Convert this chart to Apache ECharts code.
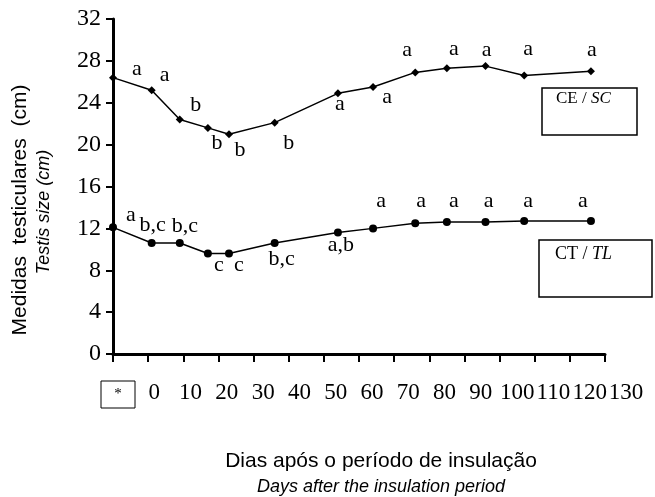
<!DOCTYPE html>
<html>
<head>
<meta charset="utf-8">
<script src="https://cdn.jsdelivr.net/npm/echarts@6/dist/echarts.min.js"></script>
<style>
  html, body { margin: 0; padding: 0; background: #fff; }
  #main { width: 655px; height: 497px; }
</style>
</head>
<body>
<div id="main"></div>
<script>
// dias (posição no eixo), medidas CE/SC e CT/TL
const days = [-10, 1, 9, 17, 23, 36, 54, 64, 76, 85, 96, 107, 126];
const ceSc = [26.4, 25.2, 22.4, 21.6, 21.0, 22.1, 24.9, 25.5, 26.9, 27.3, 27.5, 26.6, 27.0];
const ctTl = [12.1, 10.6, 10.6, 9.6, 9.6, 10.6, 11.6, 12.0, 12.5, 12.6, 12.6, 12.7, 12.7];
const ceLetters = ['a', 'a', 'b', 'b', 'b', 'b', 'a', 'a', 'a', 'a', 'a', 'a', 'a'];
const ctLetters = ['a', 'b,c', 'b,c', 'c', 'c', 'b,c', 'a,b', 'a', 'a', 'a', 'a', 'a', 'a'];
const xTickLabels = ['*', '0', '10', '20', '30', '40', '50', '60', '70', '80', '90', '100', '110', '120', '130'];

// deslocamento das letras em relação ao ponto (px)
const ceOffsets = [[24, -8], [13, -15], [16, -14], [9, 15], [11, 16], [14, 21], [2, 11], [14, 10], [-8, -22], [7, -19], [1, -16], [4, -26], [1, -21]];
const ctOffsets = [[18, -12], [1, -18], [5, -17], [11, 12], [10, 12], [7, 16], [3, 13], [8, -27], [6, -22], [7, -21], [3, -21], [4, -20], [-8, -20]];

const serif = 'Liberation Serif';
const sans = 'Liberation Sans';

function points(vals, letters, offsets) {
  return vals.map((v, i) => ({
    value: [days[i], v],
    label: { formatter: letters[i], offset: offsets[i] }
  }));
}

const myChart = echarts.init(document.getElementById('main'));
myChart.setOption({
  animation: false,
  grid: [
    { left: 113, right: 50, top: 19, bottom: 143 },
    { left: 118, right: 29, top: 19, bottom: 143 }
  ],
  xAxis: [
    {
      type: 'value', gridIndex: 0, min: -10, max: 130, interval: 10,
      axisLine: { lineStyle: { color: '#000', width: 3 } },
      axisTick: { show: true, length: 8, lineStyle: { color: '#000', width: 2 } },
      axisLabel: { show: false },
      splitLine: { show: false }
    },
    {
      type: 'value', gridIndex: 1, min: -10, max: 130, interval: 10,
      axisLine: { show: false },
      axisTick: { show: false },
      splitLine: { show: false },
      axisLabel: {
        margin: 27,
        showMinLabel: true,
        showMaxLabel: true,
        fontFamily: serif, fontSize: 23, color: '#000',
        formatter: (v) => {
          const i = Math.round((v + 10) / 10);
          return i === 0 ? '{box|' + xTickLabels[0] + '}' : xTickLabels[i];
        },
        rich: {
          box: {
            width: 34, height: 27, align: 'center', verticalAlign: 'top',
            borderColor: '#000', borderWidth: 1, fontFamily: serif, fontSize: 15,
            lineHeight: 20, color: '#000'
          }
        }
      }
    }
  ],
  yAxis: [
    {
      type: 'value', gridIndex: 0, min: 0, max: 32, interval: 4,
      axisLine: { show: true, onZero: false, lineStyle: { color: '#000', width: 3 } },
      axisTick: { show: true, length: 7, lineStyle: { color: '#000', width: 2 } },
      axisLabel: { margin: 12, fontFamily: serif, fontSize: 24, color: '#000' },
      splitLine: { show: false }
    },
    { type: 'value', gridIndex: 1, min: 0, max: 32, show: false, splitLine: { show: false } }
  ],
  series: [
    {
      name: 'CE / SC', type: 'line', xAxisIndex: 0, yAxisIndex: 0,
      data: points(ceSc, ceLetters, ceOffsets),
      symbol: 'diamond', symbolSize: 8,
      lineStyle: { color: '#000', width: 1.5 },
      itemStyle: { color: '#000' },
      label: {
        show: true, position: 'inside', align: 'center', verticalAlign: 'middle',
        fontFamily: serif, fontSize: 22, color: '#000'
      }
    },
    {
      name: 'CT / TL', type: 'line', xAxisIndex: 0, yAxisIndex: 0,
      data: points(ctTl, ctLetters, ctOffsets),
      symbol: 'circle', symbolSize: 8,
      lineStyle: { color: '#000', width: 1.5 },
      itemStyle: { color: '#000' },
      label: {
        show: true, position: 'inside', align: 'center', verticalAlign: 'middle',
        fontFamily: serif, fontSize: 22, color: '#000'
      }
    }
  ],
  graphic: [
    {
      type: 'text', x: 20, y: 210, rotation: Math.PI / 2,
      style: { text: 'Medidas  testiculares  (cm)', fontFamily: sans, fontSize: 21, fill: '#000', align: 'center', verticalAlign: 'middle' }
    },
    {
      type: 'text', x: 44, y: 212, rotation: Math.PI / 2,
      style: { text: 'Testis size (cm)', fontFamily: sans, fontStyle: 'italic', fontSize: 18, fill: '#000', align: 'center', verticalAlign: 'middle' }
    },
    {
      type: 'text', x: 381, y: 461,
      style: { text: 'Dias após o período de insulação', fontFamily: sans, fontSize: 21, fill: '#000', align: 'center', verticalAlign: 'middle' }
    },
    {
      type: 'text', x: 381, y: 487,
      style: { text: 'Days after the insulation period', fontFamily: sans, fontStyle: 'italic', fontSize: 18, fill: '#000', align: 'center', verticalAlign: 'middle' }
    },
    {
      type: 'rect', shape: { x: 542, y: 88, width: 95, height: 47 },
      style: { fill: 'none', stroke: '#000', lineWidth: 1.5 }
    },
    {
      type: 'text', x: 556, y: 99,
      style: {
        text: '{n|CE / }{i|SC}', verticalAlign: 'middle',
        rich: {
          n: { fontFamily: serif, fontSize: 17, fill: '#000' },
          i: { fontFamily: serif, fontSize: 17, fontStyle: 'italic', fill: '#000' }
        }
      }
    },
    {
      type: 'rect', shape: { x: 539, y: 240, width: 113, height: 57 },
      style: { fill: 'none', stroke: '#000', lineWidth: 1.5 }
    },
    {
      type: 'text', x: 555, y: 254,
      style: {
        text: '{n|CT / }{i|TL}', verticalAlign: 'middle',
        rich: {
          n: { fontFamily: serif, fontSize: 18, fill: '#000' },
          i: { fontFamily: serif, fontSize: 18, fontStyle: 'italic', fill: '#000' }
        }
      }
    }
  ]
});
</script>
</body>
</html>
